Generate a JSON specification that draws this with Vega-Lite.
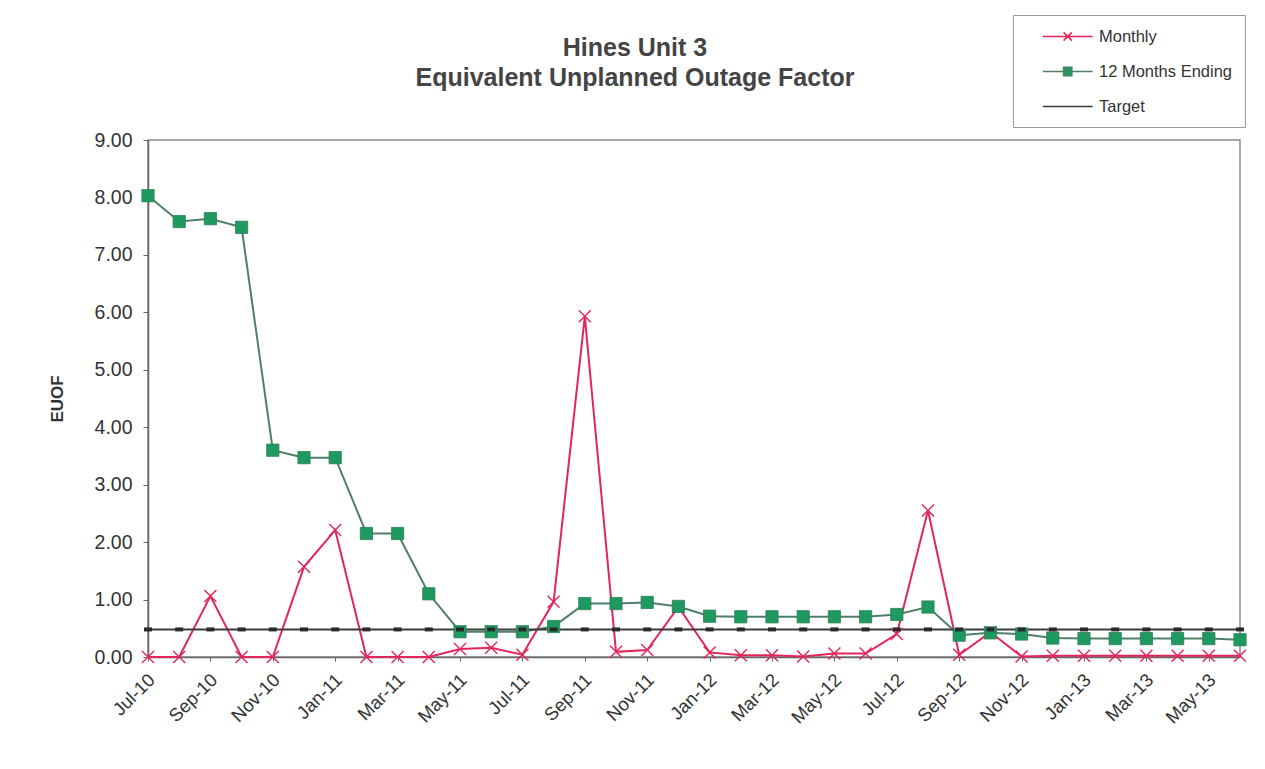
{
  "$schema": "https://vega.github.io/schema/vega-lite/v6.json",
  "autosize": {"type": "none"},
  "width": 1092,
  "height": 517,
  "padding": {"left": 148, "top": 140, "right": 25, "bottom": 112},
  "background": "white",
  "config": {
    "font": "Liberation Sans",
    "view": {"stroke": "#8a8a8a", "strokeWidth": 1.5},
    "axis": {"grid": false, "domainColor": "#666", "tickColor": "#666", "labelColor": "#333", "labelFont": "Liberation Sans", "titleFont": "Liberation Sans"}
  },
  "title": {
    "text": ["Hines Unit 3", "Equivalent Unplanned Outage Factor"],
    "anchor": "middle",
    "frame": "group",
    "dx": -59,
    "offset": -76,
    "fontSize": 25,
    "fontWeight": "bold",
    "color": "#444",
    "lineHeight": 30,
    "font": "Liberation Sans"
  },
  "data": {
    "values": [
      {"month": "Jul-10", "Monthly": 0, "12 Months Ending": 8.03, "Target": 0.48},
      {"month": "Aug-10", "Monthly": 0, "12 Months Ending": 7.58, "Target": 0.48},
      {"month": "Sep-10", "Monthly": 1.06, "12 Months Ending": 7.63, "Target": 0.48},
      {"month": "Oct-10", "Monthly": 0, "12 Months Ending": 7.48, "Target": 0.48},
      {"month": "Nov-10", "Monthly": 0, "12 Months Ending": 3.6, "Target": 0.48},
      {"month": "Dec-10", "Monthly": 1.57, "12 Months Ending": 3.47, "Target": 0.48},
      {"month": "Jan-11", "Monthly": 2.21, "12 Months Ending": 3.47, "Target": 0.48},
      {"month": "Feb-11", "Monthly": 0, "12 Months Ending": 2.15, "Target": 0.48},
      {"month": "Mar-11", "Monthly": 0, "12 Months Ending": 2.15, "Target": 0.48},
      {"month": "Apr-11", "Monthly": 0, "12 Months Ending": 1.1, "Target": 0.48},
      {"month": "May-11", "Monthly": 0.14, "12 Months Ending": 0.44, "Target": 0.48},
      {"month": "Jun-11", "Monthly": 0.16, "12 Months Ending": 0.44, "Target": 0.48},
      {"month": "Jul-11", "Monthly": 0.04, "12 Months Ending": 0.44, "Target": 0.48},
      {"month": "Aug-11", "Monthly": 0.96, "12 Months Ending": 0.53, "Target": 0.48},
      {"month": "Sep-11", "Monthly": 5.93, "12 Months Ending": 0.93, "Target": 0.48},
      {"month": "Oct-11", "Monthly": 0.09, "12 Months Ending": 0.93, "Target": 0.48},
      {"month": "Nov-11", "Monthly": 0.12, "12 Months Ending": 0.95, "Target": 0.48},
      {"month": "Dec-11", "Monthly": 0.87, "12 Months Ending": 0.88, "Target": 0.48},
      {"month": "Jan-12", "Monthly": 0.08, "12 Months Ending": 0.71, "Target": 0.48},
      {"month": "Feb-12", "Monthly": 0.03, "12 Months Ending": 0.7, "Target": 0.48},
      {"month": "Mar-12", "Monthly": 0.03, "12 Months Ending": 0.7, "Target": 0.48},
      {"month": "Apr-12", "Monthly": 0.01, "12 Months Ending": 0.7, "Target": 0.48},
      {"month": "May-12", "Monthly": 0.06, "12 Months Ending": 0.7, "Target": 0.48},
      {"month": "Jun-12", "Monthly": 0.06, "12 Months Ending": 0.7, "Target": 0.48},
      {"month": "Jul-12", "Monthly": 0.4, "12 Months Ending": 0.74, "Target": 0.48},
      {"month": "Aug-12", "Monthly": 2.55, "12 Months Ending": 0.87, "Target": 0.48},
      {"month": "Sep-12", "Monthly": 0.04, "12 Months Ending": 0.38, "Target": 0.48},
      {"month": "Oct-12", "Monthly": 0.43, "12 Months Ending": 0.42, "Target": 0.48},
      {"month": "Nov-12", "Monthly": 0.01, "12 Months Ending": 0.4, "Target": 0.48},
      {"month": "Dec-12", "Monthly": 0.02, "12 Months Ending": 0.33, "Target": 0.48},
      {"month": "Jan-13", "Monthly": 0.02, "12 Months Ending": 0.32, "Target": 0.48},
      {"month": "Feb-13", "Monthly": 0.02, "12 Months Ending": 0.32, "Target": 0.48},
      {"month": "Mar-13", "Monthly": 0.02, "12 Months Ending": 0.32, "Target": 0.48},
      {"month": "Apr-13", "Monthly": 0.02, "12 Months Ending": 0.32, "Target": 0.48},
      {"month": "May-13", "Monthly": 0.02, "12 Months Ending": 0.32, "Target": 0.48},
      {"month": "Jun-13", "Monthly": 0.02, "12 Months Ending": 0.3, "Target": 0.48}
    ]
  },
  "transform": [
    {"fold": ["Monthly", "12 Months Ending", "Target"], "as": ["series", "value"]}
  ],
  "encoding": {
    "x": {
      "field": "month", "type": "ordinal", "sort": null,
      "scale": {"type": "point", "padding": 0},
      "axis": {
        "title": null,
        "values": ["Jul-10","Sep-10","Nov-10","Jan-11","Mar-11","May-11","Jul-11","Sep-11","Nov-11","Jan-12","Mar-12","May-12","Jul-12","Sep-12","Nov-12","Jan-13","Mar-13","May-13"],
        "labelAngle": -45, "labelAlign": "right", "labelBaseline": "top",
        "labelFontSize": 18.5, "tickSize": 4, "labelPadding": 9, "labelOffset": -3, "domainWidth": 1.5
      }
    },
    "y": {
      "field": "value", "type": "quantitative",
      "scale": {"domain": [0, 9], "nice": false},
      "axis": {
        "title": "EUOF", "titleFontSize": 17, "titleFontWeight": "bold", "titleColor": "#333", "titlePadding": 28,
        "values": [0,1,2,3,4,5,6,7,8,9], "format": ".2f",
        "labelFontSize": 19.5, "tickSize": 5, "labelPadding": 11, "domainWidth": 1.5
      }
    }
  },
  "layer": [
    {
      "mark": {"type": "line", "strokeWidth": 2},
      "encoding": {
        "color": {
          "field": "series", "type": "nominal",
          "scale": {"domain": ["Monthly", "12 Months Ending", "Target"], "range": ["#E3265A", "#4E8068", "#3A3A3A"]},
          "legend": {
            "title": null,
            "orient": "none",
            "legendX": 865,
            "legendY": -125,
            "padding": 12,
            "strokeColor": "#9a9a9a",
            "fillColor": "white",
            "labelFontSize": 16.5,
            "labelColor": "#333",
            "labelFont": "Liberation Sans",
            "labelOffset": 55,
            "rowPadding": 17,
            "symbolSize": 276,
            "symbolStrokeWidth": 1.5,
            "encode": {
              "symbols": {
                "update": {
                  "shape": {"signal": "datum.value === 'Monthly' ? 'M1,0L7,0M3.5,-0.5L4.5,0.5M4.5,-0.5L3.5,0.5' : (datum.value === 'Target' ? 'M1,0L7,0M3.6,0L4.4,0' : 'M1,0L7,0M3.5,-0.5L4.5,-0.5L4.5,0.5L3.5,0.5Z')"},
                  "fill": {"signal": "datum.value === '12 Months Ending' ? '#1E9A60' : 'transparent'"}
                }
              }
            }
          }
        }
      }
    },
    {
      "transform": [{"filter": "datum.series === 'Monthly'"}],
      "mark": {"type": "point", "shape": "M-1,-1L1,1M-1,1L1,-1", "filled": false, "stroke": "#E3265A", "strokeWidth": 1.4, "size": 144, "opacity": 1}
    },
    {
      "transform": [{"filter": "datum.series === '12 Months Ending'"}],
      "mark": {"type": "point", "shape": "square", "filled": true, "fill": "#1E9A60", "stroke": "#2f7d58", "strokeWidth": 0.8, "size": 150, "opacity": 1}
    },
    {
      "transform": [{"filter": "datum.series === 'Target'"}],
      "mark": {"type": "point", "shape": "M-1,0L1,0", "filled": false, "stroke": "#2a2a2a", "strokeWidth": 4, "size": 64, "opacity": 1}
    }
  ]
}
